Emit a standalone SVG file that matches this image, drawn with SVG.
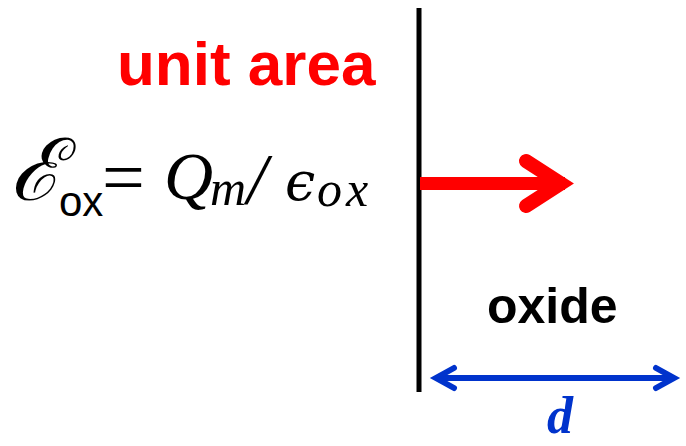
<svg xmlns="http://www.w3.org/2000/svg" width="686" height="446" viewBox="0 0 686 446">
<defs>
<style>
.lbl{font-family:"Liberation Sans",Arial,sans-serif;font-weight:bold}
.math{font-family:"Liberation Serif","DejaVu Serif",serif;font-style:italic}
.sans{font-family:"Liberation Sans",Arial,sans-serif}
</style>
</defs>
<rect width="686" height="446" fill="#ffffff"/>
<g id="boundary">
<line x1="419" y1="8" x2="419" y2="392" stroke="#000000" stroke-width="5"/>
</g>
<g id="unit-area">
<text class="lbl" x="117" y="85" font-size="62" fill="#ff0000">unit area</text>
</g>
<g id="equation">
<text x="10" y="200" font-family="'DejaVu Serif','Liberation Serif',serif" font-style="italic" font-size="86" fill="#000">ℰ</text>
<text class="sans" x="59" y="216" font-size="42" fill="#000">ox</text>
<text x="102" y="203" font-family="'Liberation Serif',serif" font-size="76" fill="#000">=</text>
<text class="math" x="164" y="199" font-size="68" fill="#000">Q</text>
<text class="math" x="210" y="205" font-size="50" fill="#000">m</text>
<text class="math" x="247" y="203" font-size="72" fill="#000">/</text>
<text x="285" y="200" font-family="'DejaVu Serif','Liberation Serif',serif" font-style="italic" font-size="54" fill="#000">ϵ</text>
<text class="math" x="317" y="206" font-size="50" letter-spacing="4" fill="#000">ox</text>
</g>
<g id="oxide">
<text class="lbl" x="487" y="323" font-size="50" fill="#000">oxide</text>
</g>
<g id="d-label">
<text x="560" y="433" text-anchor="middle" font-family="'Liberation Serif',serif" font-style="italic" font-weight="bold" font-size="52" fill="#0033cc">d</text>
</g>
<g id="connectors">
<g id="field-arrow" stroke="#ff0000" fill="none">
<line x1="420" y1="183.5" x2="565" y2="183.5" stroke-width="13"/>
<path d="M526 161 L561 183.5 L526 206" stroke-width="14" stroke-linecap="round" stroke-linejoin="miter" stroke-miterlimit="10"/>
</g>
<g id="d-arrow" stroke="#0033cc" fill="none" stroke-width="6">
<line x1="436" y1="378" x2="674" y2="378"/>
<path d="M454 368 L436 378 L454 388" stroke-linecap="round" stroke-miterlimit="10"/>
<path d="M656 368 L674 378 L656 388" stroke-linecap="round" stroke-miterlimit="10"/>
</g>
</g>
</svg>
